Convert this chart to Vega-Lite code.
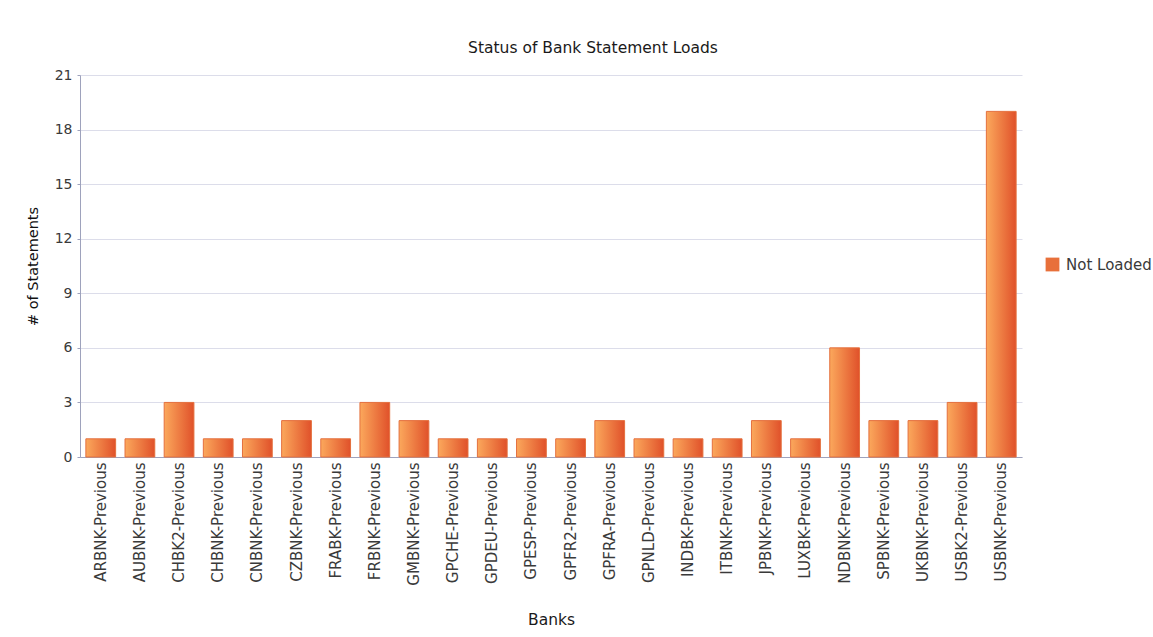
{
  "$schema": "https://vega.github.io/schema/vega-lite/v6.json",
  "width": 942,
  "height": 382,
  "padding": {"left": 25, "top": 40, "right": 5, "bottom": 5},
  "background": "white",
  "title": {"text": "Status of Bank Statement Loads", "font": "DejaVu Sans", "fontSize": 15.5, "fontWeight": "normal", "color": "#1a1a1a", "offset": 12, "dx": 42},
  "data": {"values": [
    {"bank": "ARBNK-Previous", "count": 1, "status": "Not Loaded"},
    {"bank": "AUBNK-Previous", "count": 1, "status": "Not Loaded"},
    {"bank": "CHBK2-Previous", "count": 3, "status": "Not Loaded"},
    {"bank": "CHBNK-Previous", "count": 1, "status": "Not Loaded"},
    {"bank": "CNBNK-Previous", "count": 1, "status": "Not Loaded"},
    {"bank": "CZBNK-Previous", "count": 2, "status": "Not Loaded"},
    {"bank": "FRABK-Previous", "count": 1, "status": "Not Loaded"},
    {"bank": "FRBNK-Previous", "count": 3, "status": "Not Loaded"},
    {"bank": "GMBNK-Previous", "count": 2, "status": "Not Loaded"},
    {"bank": "GPCHE-Previous", "count": 1, "status": "Not Loaded"},
    {"bank": "GPDEU-Previous", "count": 1, "status": "Not Loaded"},
    {"bank": "GPESP-Previous", "count": 1, "status": "Not Loaded"},
    {"bank": "GPFR2-Previous", "count": 1, "status": "Not Loaded"},
    {"bank": "GPFRA-Previous", "count": 2, "status": "Not Loaded"},
    {"bank": "GPNLD-Previous", "count": 1, "status": "Not Loaded"},
    {"bank": "INDBK-Previous", "count": 1, "status": "Not Loaded"},
    {"bank": "ITBNK-Previous", "count": 1, "status": "Not Loaded"},
    {"bank": "JPBNK-Previous", "count": 2, "status": "Not Loaded"},
    {"bank": "LUXBK-Previous", "count": 1, "status": "Not Loaded"},
    {"bank": "NDBNK-Previous", "count": 6, "status": "Not Loaded"},
    {"bank": "SPBNK-Previous", "count": 2, "status": "Not Loaded"},
    {"bank": "UKBNK-Previous", "count": 2, "status": "Not Loaded"},
    {"bank": "USBK2-Previous", "count": 3, "status": "Not Loaded"},
    {"bank": "USBNK-Previous", "count": 19, "status": "Not Loaded"}
  ]},
  "mark": {"type": "bar", "stroke": "#E4703E", "strokeWidth": 1,
           "fill": {"gradient": "linear", "x1": 0, "y1": 0, "x2": 1, "y2": 0, "stops": [{"offset": 0, "color": "#FBA85C"}, {"offset": 1, "color": "#E0512A"}]}},
  "encoding": {
    "x": {
      "field": "bank", "type": "nominal", "sort": null, "title": "Banks",
      "scale": {"paddingInner": 0.24, "paddingOuter": 0.15},
      "axis": {"labelAngle": -90, "labelFont": "DejaVu Sans", "labelFontSize": 15, "labelColor": "#3a3a3a", "ticks": false, "labelPadding": 5,
               "domainColor": "#9EA2BC", "titleFont": "DejaVu Sans", "titleFontSize": 15.5, "titleFontWeight": "normal", "titleColor": "#1a1a1a", "titlePadding": 27}
    },
    "y": {
      "field": "count", "type": "quantitative", "title": "# of Statements",
      "scale": {"domain": [0, 21], "nice": false},
      "axis": {"values": [0, 3, 6, 9, 12, 15, 18, 21], "labelFont": "DejaVu Sans", "labelFontSize": 14, "labelColor": "#3a3a3a", "tickSize": 3, "tickColor": "#9EA2BC",
               "domainColor": "#9EA2BC", "gridColor": "#DCDDEA", "titleFont": "DejaVu Sans", "titleFontSize": 14.5, "titleFontWeight": "normal", "titleColor": "#111", "titlePadding": 14, "labelPadding": 5}
    },
    "color": {
      "field": "status", "type": "nominal", "title": null,
      "scale": {"range": ["#E8703A"]},
      "legend": {"orient": "none", "legendX": 965, "legendY": 182, "symbolType": "square", "symbolSize": 190, "labelFont": "DejaVu Sans", "labelFontSize": 15, "labelColor": "#3a3a3a", "labelOffset": 6, "symbolStrokeWidth": 0,
                 "encode": {"symbols": {"update": {"fill": {"value": {"gradient": "linear", "x1": 0, "y1": 0, "x2": 1, "y2": 0, "stops": [{"offset": 0, "color": "#FBA85C"}, {"offset": 1, "color": "#E0512A"}]}}}}}}
    }
  },
  "config": {"view": {"stroke": null}, "legend": {"padding": 0}}
}
